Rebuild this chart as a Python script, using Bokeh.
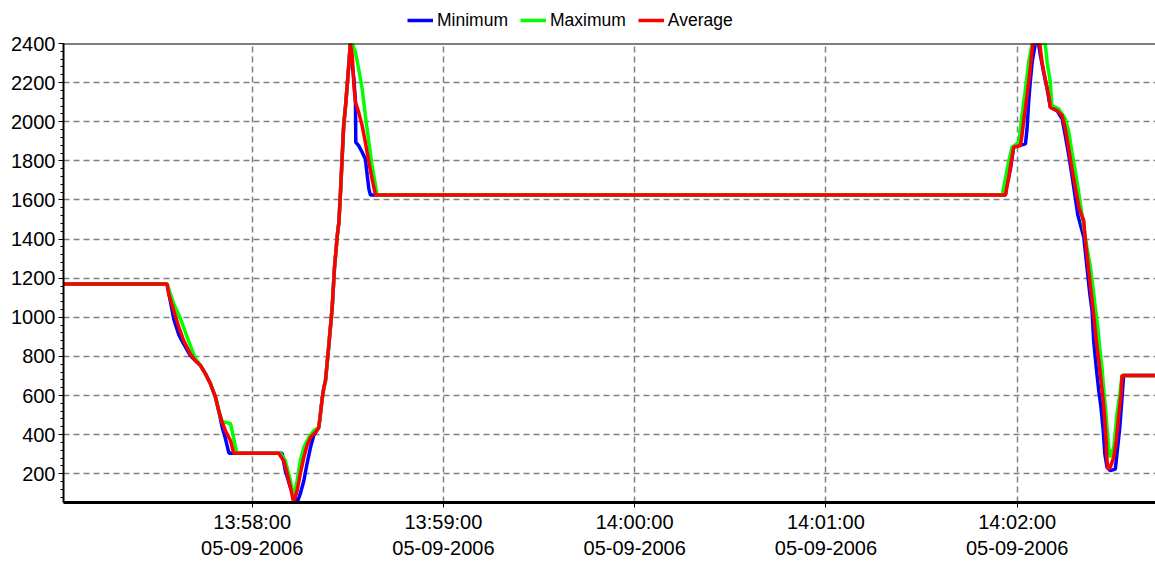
import pandas as pd
from bokeh.plotting import figure
from bokeh.layouts import column
from bokeh.models import (Legend, LegendItem, FixedTicker, SingleIntervalTicker,
                          DatetimeTickFormatter, Span, Range1d)
from bokeh.embed import file_html
from bokeh.resources import INLINE

# ---- data (seconds after 05-09-2006 13:57:00) ----
series_names = ["Minimum", "Maximum", "Average"]
series_colors = ["#0000FF", "#00FF00", "#FF0000"]

min_t = [0, 33.3, 35.4, 37.0, 38.5, 40.6, 42.2, 43.8, 45.3, 46.9, 48.5, 49.5, 50.6, 51.6, 52.7,
         69.4, 70.4, 72.0, 74.1, 75.1, 76.2, 77.2, 78.3, 79.3, 80.9, 81.4, 82.0, 82.5, 83.0, 84.0,
         85.1, 85.8, 86.7, 87.2, 87.7, 88.2, 88.7, 89.3, 89.8, 90.3, 90.8, 91.4, 91.9, 92.4, 92.5,
         93.4, 94.5, 95.5, 96.1, 96.6, 97.1, 296.3, 296.8, 297.9, 298.9, 302.6, 303.1, 303.6, 304.1,
         304.7, 305.7, 306.7, 307.3, 308.3, 309.4, 310.4, 312.5, 314.1, 315.1, 316.2, 317.2, 318.3,
         319.0, 320.9, 321.9, 322.8, 323.5, 324.0, 324.8, 325.6, 326.3, 327.0, 327.5, 328.2, 329.2,
         330.8, 331.3, 332.2, 332.9, 333.4, 343.4]
min_v = [1170, 1170, 990, 910, 864, 804, 778, 753, 712, 660, 590, 522, 437, 380, 305,
         305, 215, 130, 53, 98, 164, 251, 335, 395, 437, 505, 590, 642, 676, 850,
         1050, 1250, 1418, 1486, 1639, 1810, 1980, 2083, 2185, 2289, 2400, 2289, 2219, 2100, 1895,
         1878, 1844, 1810, 1725, 1657, 1625, 1625, 1680, 1759, 1870, 1887, 1964, 2100, 2202,
         2304, 2400, 2400, 2339, 2253, 2168, 2074, 2057, 2015, 1929, 1827, 1725, 1605,
         1525, 1409, 1256, 1119, 1034, 881, 744, 625, 540, 420, 301, 233, 216,
         224, 301, 437, 590, 702, 702]

max_t = [0, 33.3, 35.4, 37.5, 39.6, 41.2, 42.2, 43.8, 45.3, 46.9, 48.5, 49.5, 50.6, 51.6, 53.2,
         54.8, 55.2, 68.9, 70.4, 72.0, 73.0, 74.1, 75.1, 76.2, 77.8, 79.3, 80.9, 81.4, 82.0, 82.5,
         83.0, 84.0, 85.1, 85.8, 86.7, 87.2, 87.7, 88.2, 88.7, 89.3, 89.8, 90.3, 90.8, 91.4, 92.4,
         93.4, 94.5, 95.5, 96.6, 97.6, 98.7, 99.2, 295.3, 296.3, 297.3, 298.4, 300.5, 301.5, 302.6,
         303.6, 304.7, 308.8, 309.4, 310.4, 310.9, 313.0, 315.1, 316.2, 317.2, 318.3, 319.3, 320.9,
         321.9, 323.0, 323.8, 324.5, 325.3, 325.9, 326.6, 327.1, 327.7, 328.2, 328.7, 329.2, 330.3,
         331.3, 332.2, 332.9, 343.4]
max_v = [1170, 1170, 1070, 993, 898, 830, 790, 753, 712, 660, 590, 522, 463, 463, 456,
         335, 305, 305, 267, 164, 79, 164, 267, 335, 386, 420, 437, 505, 590, 642,
         676, 850, 1050, 1250, 1418, 1486, 1639, 1810, 1980, 2083, 2185, 2289, 2400, 2400, 2356,
         2271, 2168, 2032, 1895, 1776, 1674, 1625, 1625, 1710, 1793, 1870, 1895, 2032, 2168,
         2304, 2400, 2400, 2304, 2202, 2083, 2066, 2015, 1946, 1844, 1742, 1639, 1460,
         1358, 1256, 1153, 1051, 949, 846, 744, 642, 540, 437, 335, 284, 335,
         505, 608, 702, 702]

avg_t = [0, 33.3, 33.8, 35.4, 37.0, 38.5, 40.6, 42.2, 43.8, 45.3, 46.9, 48.5, 49.5, 50.6, 51.6,
         53.2, 54.2, 68.3, 69.9, 71.0, 72.0, 73.0, 74.1, 75.1, 76.2, 77.2, 78.3, 79.8, 80.9, 81.4,
         82.0, 82.5, 83.0, 84.0, 85.1, 85.8, 86.7, 87.2, 87.7, 88.2, 88.7, 89.3, 89.8, 90.3, 90.8,
         91.4, 91.9, 92.4, 93.4, 94.5, 95.5, 96.6, 97.6, 98.7, 296.3, 297.3, 298.1, 298.9, 301.0,
         301.5, 302.0, 303.1, 304.1, 304.9, 307.1, 307.8, 308.8, 309.9, 310.4, 312.5, 314.1, 315.1,
         316.2, 317.2, 318.3, 319.5, 320.9, 321.4, 322.1, 322.8, 323.5, 324.2, 324.8, 325.6, 326.3,
         327.0, 327.5, 327.9, 328.2, 328.5, 329.2, 330.3, 331.1, 331.8, 332.6, 332.9, 343.4]
avg_v = [1170, 1170, 1120, 1034, 949, 881, 813, 778, 753, 712, 660, 590, 522, 463, 420,
         369, 305, 305, 267, 199, 130, 53, 113, 200, 284, 343, 386, 411, 437, 505,
         590, 642, 676, 850, 1050, 1250, 1418, 1486, 1639, 1810, 1980, 2083, 2185, 2289, 2400,
         2339, 2185, 2100, 2049, 1980, 1895, 1793, 1708, 1625, 1625, 1710, 1793, 1870, 1878,
         1929, 1997, 2134, 2271, 2400, 2400, 2304, 2219, 2134, 2074, 2057, 2032, 1964,
         1861, 1759, 1657, 1555, 1494, 1392, 1290, 1187, 1085, 983, 881, 778, 676,
         574, 471, 369, 267, 224, 233, 284, 369, 488, 608, 702, 702]

tick_times = ["13:58:00", "13:59:00", "14:00:00", "14:01:00", "14:02:00"]
tick_date = "2006-09-05"

base = pd.Timestamp("2006-09-05 13:57:00")


def to_dt(secs):
    return [base + pd.Timedelta(seconds=s) for s in secs]


x_start = to_dt([0.8])[0]
x_end = to_dt([343.4])[0]

# ---------- main chart ----------
p = figure(width=1155, height=529, x_axis_type="datetime", output_backend="svg",
           toolbar_location=None, title=None,
           x_range=Range1d(x_start, x_end), y_range=Range1d(53, 2400),
           min_border_left=63, min_border_right=0, min_border_top=11, min_border_bottom=59)
p.outline_line_color = None
p.background_fill_color = "white"
p.border_fill_color = "white"

p.line(to_dt(min_t), min_v, line_color=series_colors[0], line_width=3.5)
p.line(to_dt(max_t), max_v, line_color=series_colors[1], line_width=3.5)
p.line(to_dt(avg_t), avg_v, line_color=series_colors[2], line_width=3.5)

tick_ms = [pd.Timestamp(f"{tick_date} {t}").timestamp() * 1000 for t in tick_times]
p.xaxis.ticker = FixedTicker(ticks=tick_ms)
fmt = "%H:%M:%S\n%d-%m-%Y"
p.xaxis.formatter = DatetimeTickFormatter(seconds=fmt, minsec=fmt, minutes=fmt,
                                          hourmin=fmt, hours=fmt, days=fmt)
p.yaxis.ticker = SingleIntervalTicker(interval=200, num_minor_ticks=5)

for ax in (p.xaxis[0], p.yaxis[0]):
    ax.axis_line_color = "black"
    ax.major_tick_line_color = "black"
    ax.major_tick_in = 0
    ax.major_tick_out = 5
    ax.minor_tick_in = 0
    ax.minor_tick_out = 3
    ax.minor_tick_line_color = "black"
    ax.major_label_text_font = "Liberation Sans"
    ax.major_label_text_font_size = "20px"
    ax.major_label_text_color = "black"
p.xaxis.axis_line_width = 3
p.yaxis.axis_line_width = 2
p.xaxis.major_label_standoff = 3
p.yaxis.major_label_standoff = 3

for g in (p.xgrid[0], p.ygrid[0]):
    g.grid_line_color = "#808080"
    g.grid_line_dash = "6 4"
    g.grid_line_width = 1.5

p.add_layout(Span(location=2400, dimension="width", line_color="black", line_width=2))

# ---------- legend strip ----------
lg = figure(width=1155, height=32, output_backend="svg", toolbar_location=None, title=None,
            x_range=Range1d(0, 1), y_range=Range1d(0, 1),
            x_axis_location=None, y_axis_location=None, min_border=0)
lg.outline_line_color = None
lg.xgrid.visible = False
lg.ygrid.visible = False
items = []
for name, col in zip(series_names, series_colors):
    r = lg.line([-10, -9], [-10, -9], line_color=col, line_width=3.5)
    items.append(LegendItem(label=name, renderers=[r]))
legend = Legend(items=items, orientation="horizontal", location=(344, 0),
                glyph_width=26, glyph_height=24, label_height=24, label_standoff=4,
                spacing=12, padding=0, margin=0, border_line_color=None,
                background_fill_alpha=0, label_text_font="Liberation Sans",
                label_text_font_size="17.5px", label_text_color="black")
lg.add_layout(legend)

layout = column(lg, p, spacing=0)
open("out.html", "w").write(file_html(layout, INLINE))
